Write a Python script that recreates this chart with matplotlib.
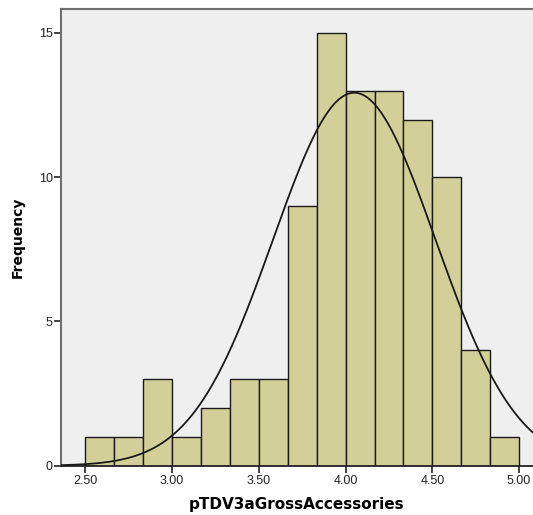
import numpy as np
import matplotlib
matplotlib.use("Agg")
import matplotlib.pyplot as plt

plt.rcParams['font.family'] = ['Liberation Sans', 'DejaVu Sans']

# Histogram bins (width 1/6) and counts
bin_edges = [2.5 + i / 6 for i in range(16)]
counts = [1, 1, 3, 1, 2, 3, 3, 9, 15, 13, 13, 12, 10, 4, 1]

# Normal curve parameters
n_obs = 91
mean_val = 4.05
sd_val = 0.468

x_ticks = [2.5, 3.0, 3.5, 4.0, 4.5, 5.0]
x_tick_labels = ["2.50", "3.00", "3.50", "4.00", "4.50", "5.00"]
y_ticks = [0, 5, 10, 15]

fig = plt.figure(figsize=(5.33, 5.15), dpi=100)
ax = fig.add_axes([0.1144, 0.0957, 0.8856, 0.8868])
ax.set_facecolor('#EFEFEF')

lefts = np.array(bin_edges[:-1])
widths = np.diff(bin_edges)
ax.bar(lefts, counts, width=widths, align='edge', color='#D3CF98',
       edgecolor='#1a1a1a', linewidth=1.0, zorder=2)

xmin, xmax = 2.36, 5.08
xs = np.linspace(xmin, xmax, 400)
bw = 1 / 6
ys = n_obs * bw / (sd_val * np.sqrt(2 * np.pi)) * np.exp(-0.5 * ((xs - mean_val) / sd_val) ** 2)
ax.plot(xs, ys, color='#1a1a1a', linewidth=1.3, zorder=3)

ax.set_xlim(xmin, xmax)
ax.set_ylim(0, 15.83)
ax.set_xticks(x_ticks)
ax.set_xticklabels(x_tick_labels)
ax.set_yticks(y_ticks)
ax.tick_params(axis='both', labelsize=9, colors='#222222', length=5, width=1.2, pad=2)
ax.tick_params(axis='y', pad=1)

for side in ['left', 'top']:
    ax.spines[side].set_color('#707070')
    ax.spines[side].set_linewidth(1.5)
ax.spines['bottom'].set_color('#222222')
ax.spines['bottom'].set_linewidth(1.3)
ax.spines['right'].set_visible(False)

ax.set_xlabel('pTDV3aGrossAccessories', fontsize=11, fontweight='bold',
              family='DejaVu Sans', labelpad=7)
ax.set_ylabel('Frequency', fontsize=10, fontweight='bold',
              family='DejaVu Sans', labelpad=10)

fig.savefig('out.png', dpi=100)
